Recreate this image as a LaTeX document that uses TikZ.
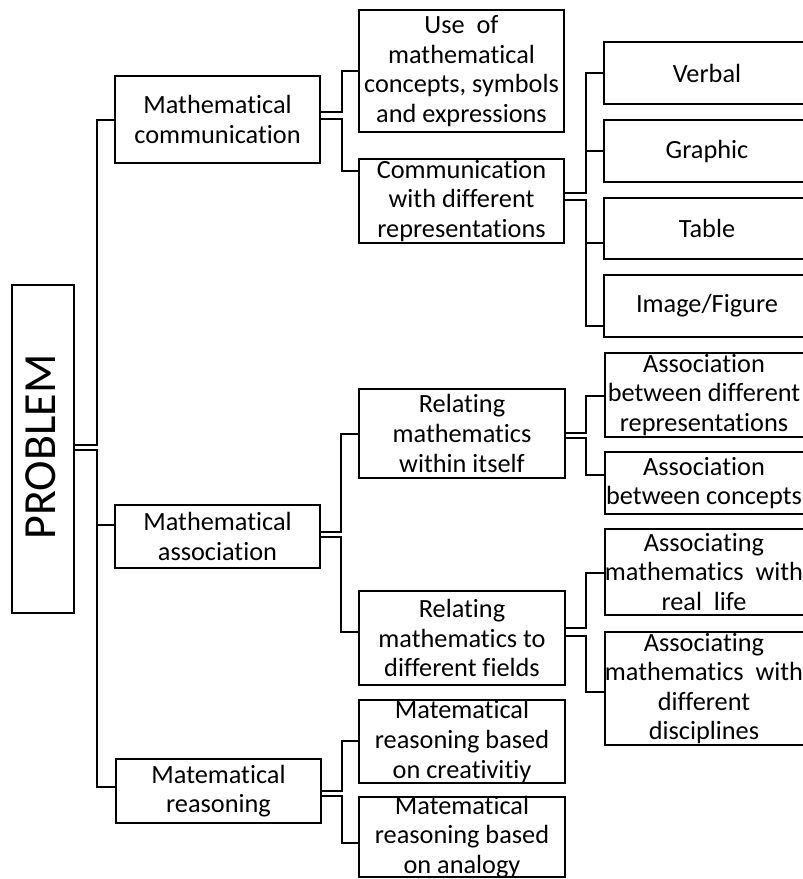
\documentclass[tikz,border=0pt]{standalone}
\usepackage{fontspec}
\setmainfont{Carlito}[Ligatures=NoCommon]
\newcommand\bxnode[6]{%
  \node[bx,minimum width=#3,minimum height=#4] (#1) at (#2) {};
  \node[tx] (#1-t) at (#5) {#6};}
\begin{document}
\begin{tikzpicture}[x=1pt,y=-1pt,
  bx/.style={draw=black,line width=2.5pt,inner sep=0pt,outer sep=0pt,rectangle},
  tx/.style={align=center,inner sep=0pt,font=\fontsize{26.3}{29.6}\selectfont},
  cn/.style={draw=black,line width=2.3pt}]
\useasboundingbox (0,0) rectangle (803,879);
% PROBLEM
\node[bx,minimum width=62,minimum height=328] (p) at (43,449) {};
\node[rotate=90,inner sep=0pt,font=\fontsize{46}{50}\selectfont] (p-t) at (41,447) {PROBLEM};
% level 1
\bxnode{mc}{217.5,119.5}{205}{87}{217.5,119.5}{Mathematical\\communication}
\bxnode{ma}{217.5,536.5}{205}{63}{217.5,536.5}{Mathematical\\association}
\bxnode{mr}{218.5,791}{205}{64}{218.5,791}{Matematical\\reasoning}
% level 2
\bxnode{uc}{461.5,71}{205}{122}{461.5,71}{Use~~of\\mathematical\\concepts, symbols\\and expressions}
\bxnode{cr}{461.5,201}{205}{84}{461.5,201}{Communication\\with different\\representations}
\bxnode{rw}{462,433.5}{206}{89}{462,433.5}{Relating\\mathematics\\within itself}
\bxnode{rf}{462,638}{206}{94}{462,638}{Relating\\mathematics to\\different fields}
\bxnode{rc}{462,741.5}{206}{83}{462,741.5}{Matematical\\reasoning based\\on creativitiy}
\bxnode{ra}{462,837}{206}{80}{462,837}{Matematical\\reasoning based\\on analogy}
% level 3
\bxnode{v}{706,73}{204}{62}{707,73}{Verbal}
\bxnode{g}{706,151}{204}{62}{707,151}{Graphic}
\bxnode{t}{706,228.5}{204}{61}{707,228.5}{Table}
\bxnode{i}{706,306}{204}{62}{707,306}{Image/Figure}
\bxnode{ad}{705,395}{200}{84}{704,395}{Association\\between different\\representations}
\bxnode{ac}{705,483}{200}{62}{704,483}{Association\\between concepts}
\bxnode{ar}{705,572}{200}{86}{704,572}{Associating\\mathematics~~with\\real~~life}
\bxnode{add}{705,688.5}{200}{113}{704,688.5}{Associating\\mathematics~~with\\different\\disciplines}
% connectors from PROBLEM
\draw[cn] (p.east |- 0,445) -- (97,445) |- (mc.west |- 0,120);
\draw[cn] (p.east |- 0,450) -- (97,450) |- (ma.west |- 0,525);
\draw[cn] (p.east |- 0,450) -- (97,450) |- (mr.west |- 0,787);
% mathematical communication
\draw[cn] (mc.east |- 0,112) -- (342,112) |- (uc.west |- 0,71);
\draw[cn] (mc.east |- 0,119) -- (342,119) |- (cr.west |- 0,171);
\draw[cn] (cr.east |- 0,193) -- (586,193) |- (v.west |- 0,73);
\draw[cn] (cr.east |- 0,193) -- (586,193) |- (g.west |- 0,151);
\draw[cn] (cr.east |- 0,200) -- (586,200) |- (t.west |- 0,243);
\draw[cn] (cr.east |- 0,200) -- (586,200) |- (i.west |- 0,326);
% mathematical association
\draw[cn] (ma.east |- 0,532) -- (341,532) |- (rw.west |- 0,434);
\draw[cn] (ma.east |- 0,537) -- (341,537) |- (rf.west |- 0,632);
\draw[cn] (rw.east |- 0,433) -- (586,433) |- (ad.west |- 0,396);
\draw[cn] (rw.east |- 0,438) -- (586,438) |- (ac.west |- 0,475);
\draw[cn] (rf.east |- 0,628) -- (586,628) |- (ar.west |- 0,573);
\draw[cn] (rf.east |- 0,636) -- (586,636) |- (add.west |- 0,692);
% mathematical reasoning
\draw[cn] (mr.east |- 0,791) -- (342,791) |- (rc.west |- 0,741);
\draw[cn] (mr.east |- 0,796) -- (342,796) |- (ra.west |- 0,843);
\end{tikzpicture}
\end{document}
